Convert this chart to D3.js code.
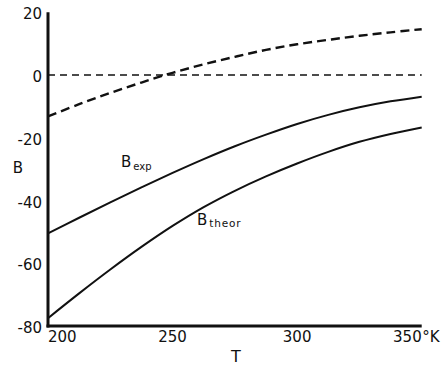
<!DOCTYPE html>
<html>
<head>
<meta charset="utf-8">
<script src="https://cdn.jsdelivr.net/npm/d3@7"></script>
<style>
  html, body { margin: 0; padding: 0; background: #fff; }
  svg { display: block; }
  text { font-family: "DejaVu Sans", "Liberation Sans", sans-serif; fill: #111; }
</style>
</head>
<body>
<svg id="chart" width="442" height="366"></svg>
<script>
// Temperature grid (K)
const temps = [200, 212.5, 225, 237.5, 250, 262.5, 275, 287.5, 300, 312.5, 325, 337.5, 350];
// Experimental second virial coefficient B
const bExp = [-50.5, -45.5, -40.6, -35.8, -31.2, -26.8, -22.7, -19, -15.6, -12.7, -10.3, -8.4, -6.9];
// Theoretical B
const bTheor = [-77.5, -69.6, -62, -54.8, -48.1, -42.1, -36.9, -32.3, -28.2, -24.5, -21.3, -18.8, -16.7];
// Difference curve (dashed)
const bDiff = [-13.2, -9.3, -5.7, -2.4, 0.7, 3.4, 5.8, 8, 9.8, 11.2, 12.5, 13.6, 14.6];

const xTicks = [200, 250, 300, 350];
const yTicks = [20, 0, -20, -40, -60, -80];

const svg = d3.select("#chart");
const x = d3.scaleLinear().domain([200, 350]).range([48, 421.7]);
const y = d3.scaleLinear().domain([-80, 20]).range([326, 12.25]);

const line = d3.line()
  .x(d => x(d[0]))
  .y(d => y(d[1]))
  .curve(d3.curveCatmullRom.alpha(0.5));

// zero reference line
svg.append("line")
  .attr("x1", x(200)).attr("x2", x(350))
  .attr("y1", y(0)).attr("y2", y(0))
  .attr("stroke", "#111").attr("stroke-width", 1.6)
  .attr("stroke-dasharray", "7,5");

// difference curve
svg.append("path")
  .attr("d", line(temps.map((t, i) => [t, bDiff[i]])))
  .attr("fill", "none").attr("stroke", "#111").attr("stroke-width", 2.4)
  .attr("stroke-dasharray", "9,5");

// experimental and theoretical curves
[bExp, bTheor].forEach(vals => {
  svg.append("path")
    .attr("d", line(temps.map((t, i) => [t, vals[i]])))
    .attr("fill", "none").attr("stroke", "#111").attr("stroke-width", 2);
});

// axes drawn as heavy frame lines, labels placed from the scales
svg.append("line")
  .attr("x1", x(200)).attr("x2", x(200))
  .attr("y1", y(20)).attr("y2", y(-80) + 1.5)
  .attr("stroke", "#111").attr("stroke-width", 3);
svg.append("line")
  .attr("x1", x(200) - 1.5).attr("x2", x(350))
  .attr("y1", y(-80)).attr("y2", y(-80))
  .attr("stroke", "#111").attr("stroke-width", 3);

svg.selectAll(".ytick").data(yTicks).enter().append("text")
  .attr("class", "ytick")
  .attr("x", x(200) - 6)
  .attr("y", d => y(d) + 7)
  .attr("text-anchor", "end")
  .attr("font-size", 15)
  .text(d => d < 0 ? "-" + Math.abs(d) : d);

svg.selectAll(".xtick").data(xTicks).enter().append("text")
  .attr("class", "xtick")
  .attr("x", d => x(d))
  .attr("y", 342)
  .attr("font-size", 15)
  .attr("text-anchor", (d, i) => i === 0 ? "start" : (i === xTicks.length - 1 ? "end" : "middle"))
  .text(d => d);

svg.append("text")
  .attr("x", x(350) + 0.5).attr("y", 342)
  .attr("font-size", 15)
  .text("°K");

// axis titles
svg.append("text").attr("x", 236).attr("y", 362)
  .attr("text-anchor", "middle").attr("font-size", 16).text("T");
svg.append("text").attr("x", 18).attr("y", 173)
  .attr("text-anchor", "middle").attr("font-size", 15).text("B");

// curve labels
const lab1 = svg.append("text").attr("x", 121).attr("y", 167).attr("font-size", 15);
lab1.append("tspan").text("B");
lab1.append("tspan").attr("dy", 3).attr("dx", 2).attr("font-size", 10).text("exp");

const lab2 = svg.append("text").attr("x", 197).attr("y", 225).attr("font-size", 15);
lab2.append("tspan").text("B");
lab2.append("tspan").attr("dy", 2).attr("dx", 2).attr("font-size", 10.5)
  .attr("letter-spacing", 0.8).text("theor");
</script>
</body>
</html>
